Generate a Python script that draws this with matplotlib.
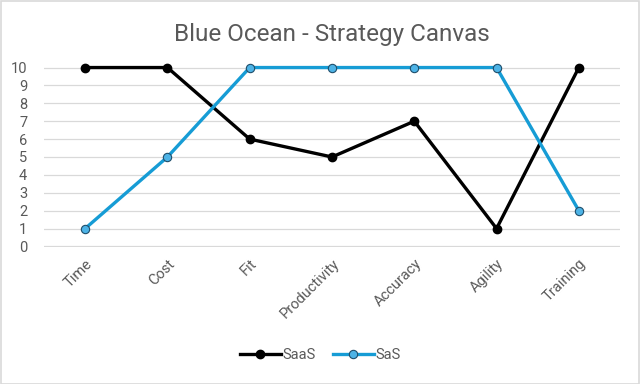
import matplotlib.pyplot as plt
from matplotlib.patches import Rectangle

plt.rcParams['font.family'] = ['Roboto', 'DejaVu Sans']

categories = ["Time", "Cost", "Fit", "Productivity", "Accuracy", "Agility", "Training"]
saas = [10, 10, 6, 5, 7, 1, 10]
sas = [1, 5, 10, 10, 10, 10, 2]

fig = plt.figure(figsize=(6.4, 3.84), dpi=100)
ax = fig.add_axes([0.06875, 0.3568, 0.9, 0.4687])

x = range(len(categories))
ax.plot(x, saas, color="black", lw=2.4, marker="o", ms=6,
        mfc="black", mec="black", label="SaaS", zorder=3, clip_on=False)
ax.plot(x, sas, color="#169CD5", lw=2.4, marker="o", ms=6,
        mfc="#4DB3E6", mec="#1F4E6B", mew=0.8, label="SaS", zorder=3, clip_on=False)

ax.set_xlim(-0.5, len(categories) - 0.5)
ax.set_ylim(-0.03, 10.03)
ax.set_yticks(range(0, 11))
ax.grid(axis="y", color="#d9d9d9", lw=0.9)
ax.set_axisbelow(True)
for s in ax.spines.values():
    s.set_visible(False)
ax.tick_params(length=0, colors="#595959", labelsize=10.5)
ax.tick_params(axis="y", pad=12)
ax.set_xticks(list(x))
ax.set_xticklabels(categories, rotation=45, ha="right", rotation_mode="anchor")
ax.tick_params(axis="x", pad=7)

ax.set_title("Blue Ocean - Strategy Canvas", color="#595959", fontsize=17.5, pad=19)

fig.legend(loc="center", bbox_to_anchor=(0.5, 0.075), ncol=2, frameon=False,
           fontsize=10.5, labelcolor="#595959", handlelength=2.8, columnspacing=1.2,
           handletextpad=0.1)

fig.patches.append(Rectangle((0.001, 0.001), 0.997, 0.997, transform=fig.transFigure,
                             fill=False, ec="#d9d9d9", lw=1.2))

fig.savefig("out.png", dpi=100)
